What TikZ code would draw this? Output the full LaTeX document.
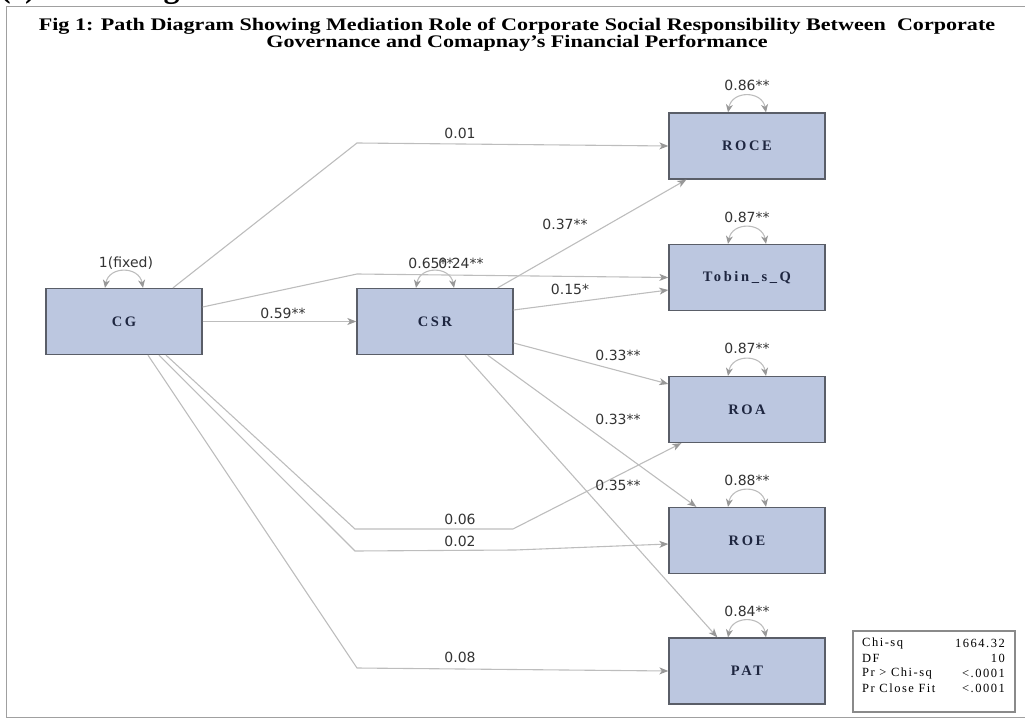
\documentclass[tikz,border=0pt]{standalone}
\usepackage{graphicx}
\usepackage{fontspec}
\setmainfont{Liberation Serif}
\newfontfamily\numfont{DejaVu Sans}
\newfontfamily\boxfont[LetterSpace=18]{Liberation Serif}
\newfontfamily\statfont[LetterSpace=12]{Liberation Serif}
\usetikzlibrary{arrows.meta}
\definecolor{boxfill}{HTML}{BCC7E0}
\definecolor{boxedge}{HTML}{5A5E68}
\definecolor{linegray}{HTML}{BDBDBD}
\definecolor{tipgray}{HTML}{989898}
\definecolor{labelgray}{HTML}{333333}
\definecolor{boxtext}{HTML}{1E2640}
\definecolor{framegray}{HTML}{A0A0A0}
\definecolor{statedge}{HTML}{8A8A8A}
\tikzset{
  varbox/.style={draw=boxedge, line width=1.3pt, fill=boxfill, minimum width=156pt,
    minimum height=66pt, inner sep=0pt, text=boxtext,
    font=\boxfont\bfseries\fontsize{14.5}{16}\selectfont},
  pathline/.style={draw=linegray, line width=1.1pt,
    -{Stealth[length=9pt,width=7pt,inset=2.5pt,color=tipgray]}},
  loopline/.style={draw=linegray, line width=1.1pt,
    {Stealth[length=8pt,width=7pt,inset=2.5pt,color=tipgray]}-{Stealth[length=8pt,width=7pt,inset=2.5pt,color=tipgray]}},
  lbl/.style={font=\numfont\fontsize{14}{16}\selectfont, text=labelgray, inner sep=0pt},
  stat/.style={font=\statfont\fontsize{12.5}{14}\selectfont, text=black, inner sep=0pt},
  ttl/.style={font=\bfseries\fontsize{22.1}{24}\selectfont, inner sep=0pt}
}
\begin{document}
\begin{tikzpicture}[x=1pt,y=-1pt]
\useasboundingbox (0,0) rectangle (1025,722);
% cut-off heading at the very top
\begin{scope}
\clip (0,0) rectangle (400,7);
\node[font=\bfseries\fontsize{32}{34}\selectfont, inner sep=0pt, anchor=base west] (head) at (0,-2) {(c) Path Diagram};
\end{scope}
% frame
\draw[draw=framegray, line width=1pt] (6,7) rectangle (1040,717);
% title
\node[ttl] (t1) at (517,26) {\scalebox{1}[0.8]{Fig 1: Path Diagram Showing Mediation Role of Corporate Social Responsibility Between\ \ Corporate}};
\node[ttl] (t2) at (517,43) {\scalebox{1}[0.8]{Governance and Comapnay's Financial Performance}};

% variables
\node[varbox] (CG) at (124,321.5) {CG};
\node[varbox] (CSR) at (435,321.5) {CSR};
\node[varbox] (ROCE) at (747,146) {ROCE};
\node[varbox] (TQ) at (747,277.5) {Tobin\_s\_Q};
\node[varbox] (ROA) at (747,409.5) {ROA};
\node[varbox] (ROE) at (747,540.5) {ROE};
\node[varbox] (PAT) at (747,671) {PAT};

% bend points
\coordinate (b1) at (357,143);
\coordinate (b2) at (357,274);
\coordinate (b4a) at (355,529);
\coordinate (b4b) at (513,529);
\coordinate (b5a) at (355,551);
\coordinate (b5b) at (515,550);
\coordinate (b6) at (357,668);

% paths from CG
\draw[pathline] ([xshift=49pt]CG.north) -- (b1) -- (ROCE.west);
\draw[pathline] ([yshift=14.5pt]CG.east) -- (b2) -- (TQ.west);
\draw[pathline] (CG) -- (CSR);
\draw[pathline] ([xshift=42pt]CG.south) -- (b4a) -- (b4b) -- ([xshift=13pt]ROA.south west);
\draw[pathline] ([xshift=35pt]CG.south) -- (b5a) -- (b5b) -- ([yshift=-3.5pt]ROE.west);
\draw[pathline] ([xshift=24pt]CG.south) -- (b6) -- (PAT.west);
% paths from CSR
\draw[pathline] ([xshift=-16pt]CSR.north east) -- ([xshift=18pt]ROCE.south west);
\draw[pathline] ([yshift=11.5pt]CSR.east) -- ([yshift=-12.5pt]TQ.west);
\draw[pathline] ([yshift=-21.5pt]CSR.east) -- ([yshift=25.5pt]ROA.west);
\draw[pathline] ([xshift=-26pt]CSR.south east) -- ([xshift=28pt]ROE.north west);
\draw[pathline] ([xshift=30pt]CSR.south) -- ([xshift=49pt]PAT.north west);

% variance loops
\foreach \v in {CG,CSR,ROCE,TQ,ROA,ROE,PAT}{
  \draw[loopline] ([xshift=-19pt]\v.north) .. controls +(4,-22) and +(-4,-22) .. ([xshift=19pt]\v.north);
}

% labels
\node[lbl] (lfix) at (126,263) {1(fixed)};
\node[lbl] (l65) at (431,263) {0.65**};
\node[lbl] (l24) at (461,263) {0.24**};
\node[lbl] (l59) at (283,313) {0.59**};
\node[lbl] (l01) at (460,133) {0.01};
\node[lbl] (l37) at (565,224) {0.37**};
\node[lbl] (l15) at (570,289) {0.15*};
\node[lbl] (l33a) at (618,355) {0.33**};
\node[lbl] (l33b) at (618,419) {0.33**};
\node[lbl] (l35) at (618,485) {0.35**};
\node[lbl] (l06) at (460,519) {0.06};
\node[lbl] (l02) at (460,541) {0.02};
\node[lbl] (l08) at (460,657) {0.08};
\node[lbl] (v86) at (747,85) {0.86**};
\node[lbl] (v87a) at (747,217) {0.87**};
\node[lbl] (v87b) at (747,348) {0.87**};
\node[lbl] (v88) at (747,480) {0.88**};
\node[lbl] (v84) at (747,611) {0.84**};

% fit statistics
\node[draw=statedge, line width=1.4pt, fill=white, minimum width=162pt, minimum height=81pt, inner sep=0pt] (fitbox) at (934,671.5) {};
\node[stat, anchor=west] (s1l) at (862,643) {Chi-sq};
\node[stat, anchor=east] (s1r) at (1005,643) {1664.32};
\node[stat, anchor=west] (s2l) at (862,658) {DF};
\node[stat, anchor=east] (s2r) at (1005,658) {10};
\node[stat, anchor=west] (s3l) at (862,673) {Pr > Chi-sq};
\node[stat, anchor=east] (s3r) at (1005,673) {<.0001};
\node[stat, anchor=west] (s4l) at (862,688) {Pr Close Fit};
\node[stat, anchor=east] (s4r) at (1005,688) {<.0001};
\end{tikzpicture}
\end{document}
